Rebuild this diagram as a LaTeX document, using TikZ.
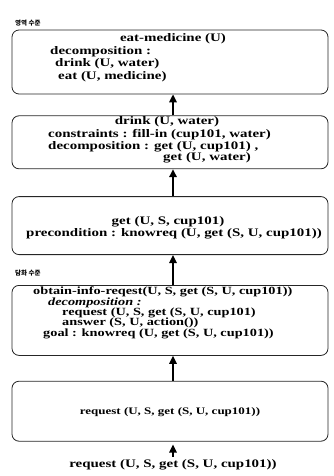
\documentclass[tikz,border=0pt]{standalone}
\usepackage{fontspec}
\setmainfont{Liberation Serif}[FakeStretch=1.3]
\newfontfamily\kor{Noto Sans CJK KR}
\usepackage{tikz}
\usetikzlibrary{positioning, arrows.meta}
\tikzset{
level/.style={draw=black!85, line width=0.8pt, rounded corners=7pt, minimum width=316pt, inner sep=0pt}, % the big boxes
line/.style={inner sep=0pt, font=\fontsize{11.5}{12}\selectfont\bfseries}, % one text line in a box
small line/.style={line, font=\fontsize{11}{12}\selectfont\bfseries}, % lines of the dialogue box
tag/.style={inner sep=0pt, anchor=west, font=\kor\fontsize{6.5}{7}\selectfont\bfseries}, % level names
up/.style={line width=1.6pt, -{Triangle[width=7.5pt, length=8pt]}}, % arrows between the boxes
}
\begin{document}
\begin{tikzpicture}[x=1pt, y=-1pt]
\useasboundingbox (0,0) rectangle (334,476);
% boxes
\node[level, minimum height=64pt] (b1) at (170,62) {};
\node[level, minimum height=53pt, below=21pt of b1] (b2) {};
\node[level, minimum height=58pt, below=27pt of b2] (b3) {};
\node[level, minimum height=70pt, below=30pt of b3] (b4) {};
\node[level, minimum height=60pt, below=25pt of b4] (b5) {};
% level names
\node[tag] (t1) at (15,23) {영역 수준};
\node[tag] (t2) at (15,273) {담화 수준};
% domain level
\node[line] (b1a) at (173,39) {eat-medicine (U)};
\node[line, anchor=west] (b1b) at (50,52) {decomposition :};
\node[line, anchor=west] (b1c) at (55,64) {drink (U, water)};
\node[line, anchor=west] (b1d) at (58,77) {eat (U, medicine)};
\node[line] (b2a) at (167,122) {drink (U, water)};
\node[line, anchor=west] (b2b) at (48,135) {constraints : fill-in (cup101, water)};
\node[line, anchor=west] (b2c) at (48,147) {decomposition : get (U, cup101) ,};
\node[line, anchor=west] (b2d) at (163,158) {get (U, water)};
\node[line] (b3a) at (168,222) {get (U, S, cup101)};
\node[line] (b3b) at (174,234) {precondition : knowreq (U, get (S, U, cup101))};
% dialogue level
\node[small line, anchor=west] (b4a) at (33,292) {obtain-info-reqest(U, S, get (S, U, cup101))};
\node[small line, anchor=west] (b4b) at (48,302.5) {\itshape decomposition :};
\node[small line, anchor=west] (b4c) at (62,313) {request (U, S, get (S, U, cup101)};
\node[small line, anchor=west] (b4d) at (62,323) {answer (S, U, action())};
\node[small line, anchor=west] (b4e) at (43,333.5) {goal : knowreq (U, get (S, U, cup101))};
\node[line, font=\fontsize{10}{11}\selectfont\bfseries] (b5a) at (170,412) {request (U, S, get (S, U, cup101))};
\node[line] (inp) at (173,465) {request (U, S, get (S, U, cup101))};
% arrows
\draw[up] ([xshift=3pt]b2.north) -- ([xshift=3pt]b1.south);
\draw[up] ([xshift=3pt]b3.north) -- ([xshift=3pt]b2.south);
\draw[up] ([xshift=3pt]b4.north) -- ([xshift=3pt]b3.south);
\draw[up] ([xshift=3pt]b5.north) -- ([xshift=3pt]b4.south);
\draw[up, shorten >=3pt] ([yshift=3pt]inp.north) -- ([xshift=3pt]b5.south);
\end{tikzpicture}
\end{document}
